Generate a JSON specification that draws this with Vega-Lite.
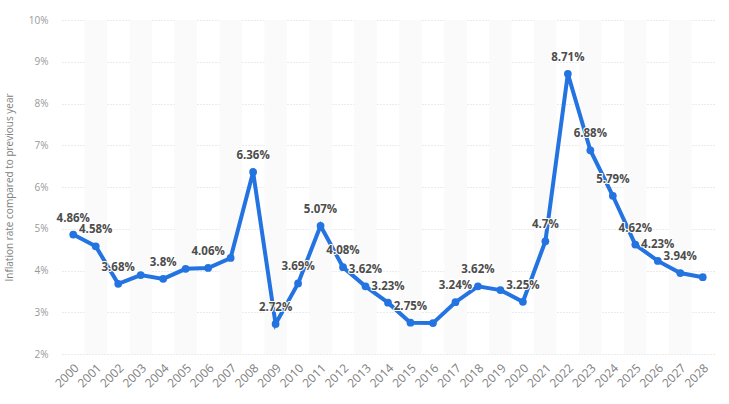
{
  "$schema": "https://vega.github.io/schema/vega-lite/v6.json",
  "width": 652,
  "height": 334,
  "autosize": {"type": "none"},
  "padding": {"left": 62, "top": 20, "right": 15, "bottom": 50},
  "background": "white",
  "config": {"view": {"stroke": null}, "font": "Open Sans"},
  "data": {"values": [
    {"year": 2000, "rate": 4.86, "labeled": true},
    {"year": 2001, "rate": 4.58, "labeled": true},
    {"year": 2002, "rate": 3.68, "labeled": true},
    {"year": 2003, "rate": 3.89, "labeled": false},
    {"year": 2004, "rate": 3.8, "labeled": true},
    {"year": 2005, "rate": 4.04, "labeled": false},
    {"year": 2006, "rate": 4.06, "labeled": true},
    {"year": 2007, "rate": 4.3, "labeled": false},
    {"year": 2008, "rate": 6.36, "labeled": true},
    {"year": 2009, "rate": 2.72, "labeled": true},
    {"year": 2010, "rate": 3.69, "labeled": true},
    {"year": 2011, "rate": 5.07, "labeled": true},
    {"year": 2012, "rate": 4.08, "labeled": true},
    {"year": 2013, "rate": 3.62, "labeled": true},
    {"year": 2014, "rate": 3.23, "labeled": true},
    {"year": 2015, "rate": 2.75, "labeled": true},
    {"year": 2016, "rate": 2.74, "labeled": false},
    {"year": 2017, "rate": 3.24, "labeled": true},
    {"year": 2018, "rate": 3.62, "labeled": true},
    {"year": 2019, "rate": 3.53, "labeled": false},
    {"year": 2020, "rate": 3.25, "labeled": true},
    {"year": 2021, "rate": 4.7, "labeled": true},
    {"year": 2022, "rate": 8.71, "labeled": true},
    {"year": 2023, "rate": 6.88, "labeled": true},
    {"year": 2024, "rate": 5.79, "labeled": true},
    {"year": 2025, "rate": 4.62, "labeled": true},
    {"year": 2026, "rate": 4.23, "labeled": true},
    {"year": 2027, "rate": 3.94, "labeled": true},
    {"year": 2028, "rate": 3.84, "labeled": false}
  ]},
  "encoding": {
    "x": {
      "field": "year", "type": "ordinal",
      "scale": {"type": "band", "paddingInner": 0, "paddingOuter": 0},
      "axis": {"title": null, "labelAngle": -45, "ticks": false, "domain": false, "grid": false,
               "labelColor": "#808080", "labelFontSize": 12, "labelPadding": 8}
    }
  },
  "layer": [
    {
      "transform": [{"filter": "datum.year % 2 == 1"}],
      "mark": {"type": "rect", "color": "#fafafa"},
      "encoding": {}
    },
    {
      "mark": {"type": "line", "color": "#2373e1", "strokeWidth": 4},
      "encoding": {
        "y": {
          "field": "rate", "type": "quantitative",
          "scale": {"domain": [2, 10], "nice": false, "zero": false},
          "axis": {"title": "Inflation rate compared to previous year", "titleFontSize": 10,
                   "titleFontWeight": "normal", "titleColor": "#808080", "titlePadding": 14,
                   "values": [2,3,4,5,6,7,8,9,10], "labelExpr": "datum.value + '%'",
                   "labelColor": "#999", "labelFontSize": 10, "labelPadding": 14,
                   "ticks": false, "domain": false, "gridColor": "#d6d6d6", "gridDash": [1, 2]}
        }
      }
    },
    {
      "mark": {"type": "point", "filled": true, "color": "#2373e1", "size": 60, "opacity": 1},
      "encoding": {"y": {"field": "rate", "type": "quantitative"}}
    },
    {
      "transform": [{"filter": "datum.labeled"}, {"calculate": "datum.rate + '%'", "as": "label"}],
      "mark": {"type": "text", "dy": -16, "fontSize": 11.5, "fontWeight": "bold", "stroke": "white", "strokeWidth": 2, "color": "white", "strokeJoin": "round"},
      "encoding": {"y": {"field": "rate", "type": "quantitative"}, "text": {"field": "label"}}
    },
    {
      "transform": [{"filter": "datum.labeled"}, {"calculate": "datum.rate + '%'", "as": "label"}],
      "mark": {"type": "text", "dy": -16, "fontSize": 11.5, "fontWeight": "bold", "color": "#4d4d4d"},
      "encoding": {"y": {"field": "rate", "type": "quantitative"}, "text": {"field": "label"}}
    }
  ]
}
